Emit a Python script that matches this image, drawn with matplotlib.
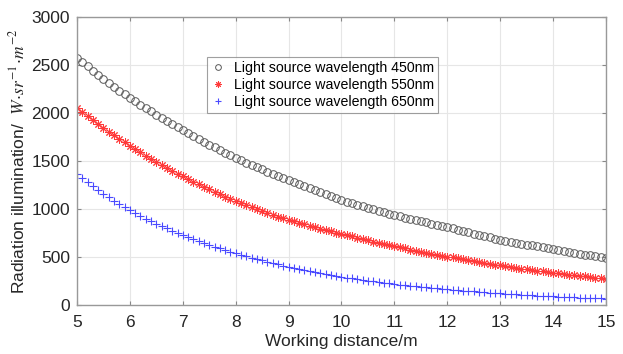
import numpy as np
import matplotlib
matplotlib.use("Agg")
import matplotlib.pyplot as plt

plt.rcParams["font.family"] = ["Liberation Sans", "DejaVu Sans"]
plt.rcParams["mathtext.fontset"] = "stix"

# working distance (m), 0.1 m steps
distance = np.linspace(5, 15, 101)

# radiation illumination
wl450 = [2575, 2530, 2485, 2441, 2398, 2356, 2315, 2274, 2234, 2195,
         2156, 2120, 2085, 2050, 2016, 1983, 1950, 1917, 1885, 1854,
         1823, 1792, 1761, 1730, 1700, 1671, 1642, 1613, 1586, 1558,
         1531, 1506, 1482, 1458, 1435, 1412, 1389, 1367, 1345, 1323,
         1302, 1280, 1257, 1236, 1214, 1193, 1173, 1153, 1133, 1113,
         1094, 1077, 1061, 1044, 1028, 1013, 997, 982, 967, 952,
         937, 924, 911, 898, 885, 872, 860, 848, 836, 824,
         812, 798, 784, 770, 756, 743, 730, 717, 705, 692,
         680, 670, 659, 649, 639, 630, 620, 611, 601, 592,
         583, 573, 563, 553, 544, 535, 525, 516, 507, 499, 490]
wl550 = [2052, 2009, 1966, 1925, 1884, 1845, 1806, 1768, 1730, 1694,
         1658, 1623, 1589, 1555, 1523, 1491, 1459, 1428, 1398, 1369,
         1340, 1312, 1284, 1257, 1231, 1205, 1179, 1155, 1130, 1106,
         1083, 1061, 1040, 1019, 999, 979, 959, 940, 921, 903,
         885, 870, 854, 839, 825, 810, 796, 782, 769, 755,
         742, 728, 714, 700, 687, 674, 661, 648, 636, 624,
         612, 600, 589, 578, 567, 556, 545, 535, 525, 515,
         505, 495, 485, 475, 465, 456, 447, 438, 429, 420,
         412, 404, 396, 388, 380, 372, 365, 357, 350, 343,
         336, 329, 323, 316, 310, 304, 298, 292, 286, 281, 275]
wl650 = [1365, 1321, 1279, 1238, 1198, 1160, 1122, 1086, 1051, 1018,
         985, 956, 928, 900, 874, 848, 823, 799, 775, 752,
         730, 708, 687, 667, 647, 628, 609, 591, 574, 557,
         540, 524, 508, 493, 478, 464, 450, 436, 423, 410,
         398, 386, 375, 363, 353, 342, 332, 322, 312, 303,
         294, 285, 277, 269, 261, 254, 246, 239, 232, 226,
         219, 213, 206, 200, 195, 189, 183, 178, 173, 168,
         163, 158, 154, 149, 145, 141, 137, 133, 129, 126,
         122, 118, 115, 112, 109, 105, 102, 99, 97, 94,
         91, 88, 86, 83, 81, 78, 76, 73, 71, 69, 67]

labels = ["Light source wavelength 450nm",
          "Light source wavelength 550nm",
          "Light source wavelength 650nm"]

fig = plt.figure(figsize=(6.23, 3.54), dpi=100)
ax = fig.add_axes([0.1236, 0.1384, 0.8491, 0.8136])

ax.plot(distance, wl450, linestyle="none", marker="o", markersize=5.5,
        markerfacecolor="none", markeredgecolor="#5a5a5a", markeredgewidth=0.7,
        label=labels[0])
ax.plot(distance, wl550, linestyle="none", marker=(8, 2, 0), markersize=6,
        color="#ff3a3a", markeredgewidth=0.7, label=labels[1])
ax.plot(distance, wl650, linestyle="none", marker="+", markersize=6,
        color="#4a4aff", markeredgewidth=0.8, label=labels[2])

ax.set_xlim(5, 15)
ax.set_ylim(0, 3000)
ax.set_xticks(range(5, 16))
ax.set_yticks(range(0, 3001, 500))
ax.grid(True, color="#e6e6e6", linewidth=0.8)
ax.set_axisbelow(True)
ax.tick_params(direction="in", top=True, right=True, labelsize=12.5,
               length=3, color="#888888", labelcolor="#262626")
ax.tick_params(axis="x", pad=7)
ax.tick_params(axis="y", pad=5)
for sp in ax.spines.values():
    sp.set_color("#999999")
    sp.set_linewidth(1.0)

ax.set_xlabel("Working distance/m", fontsize=12.5, color="#262626", labelpad=3)
ax.set_ylabel("Radiation illumination/  " + r"$W\!\cdot\!sr^{-1}\!\cdot\!m^{-2}$",
              fontsize=12.5, color="#262626", labelpad=3)

leg = ax.legend(loc="upper left", bbox_to_anchor=(0.232, 0.887), fontsize=10.2,
                frameon=True, fancybox=False, edgecolor="#888888",
                handlelength=1.0, handletextpad=0.6, borderpad=0.3,
                labelspacing=0.2, markerscale=0.75)
leg.get_frame().set_linewidth(0.8)

fig.savefig("out.png", dpi=100)
